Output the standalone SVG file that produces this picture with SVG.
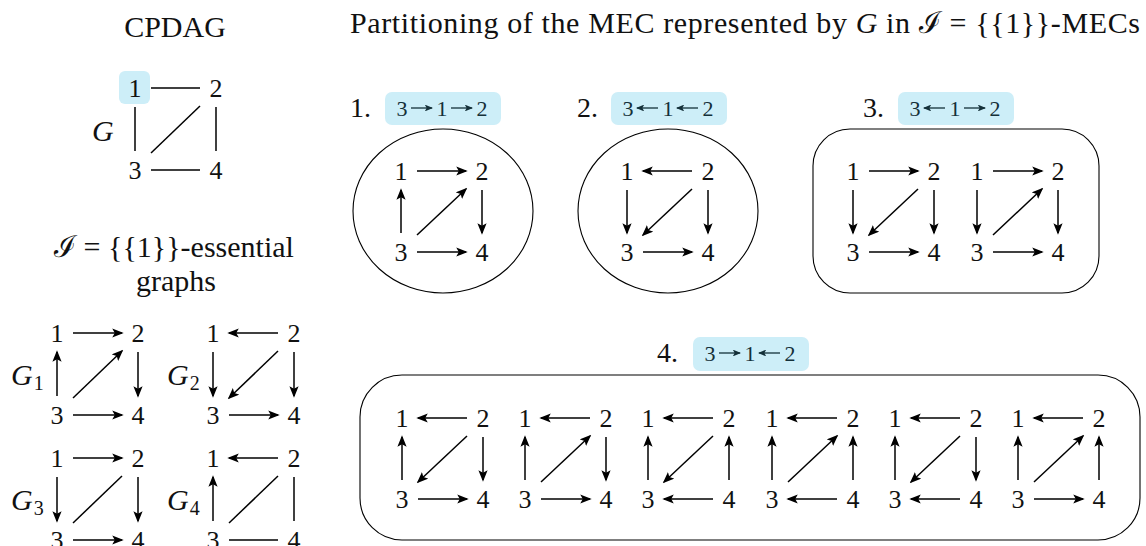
<svg xmlns="http://www.w3.org/2000/svg" width="1146" height="546" viewBox="0 0 1146 546">
<style>
text{font-family:"Liberation Serif",serif;fill:#111}
.t{font-size:30px}
.n{font-size:26px;text-anchor:middle}
.lbl{font-size:28px}
.it{font-style:italic}
.sub{font-size:20px;font-style:normal}
.e{stroke:#000;stroke-width:1.5;fill:none}
.a{marker-end:url(#ah)}
.bs{stroke:#143039;stroke-width:1.3;fill:none;marker-end:url(#ahs)}
text.bt{font-size:22px;text-anchor:middle;fill:#143039}
.badge{fill:#cdeef8}
.frame{fill:none;stroke:#000;stroke-width:1.1}
</style>
<defs>
<marker id="ah" viewBox="0 0 10 8" refX="8.5" refY="4" markerWidth="11.5" markerHeight="9.2" markerUnits="userSpaceOnUse" orient="auto"><path d="M0,0 L10,4 L0,8 L2.2,4 z" fill="#000"/></marker>
<marker id="ahs" viewBox="0 0 10 8" refX="8.5" refY="4" markerWidth="8.5" markerHeight="6.8" markerUnits="userSpaceOnUse" orient="auto"><path d="M0,0 L10,4 L0,8 L2.2,4 z" fill="#143039"/></marker>
</defs>

<g id="titles">
<text class="t" x="175" y="37" text-anchor="middle">CPDAG</text>
<text class="t" x="350" y="33" textLength="790" lengthAdjust="spacing">Partitioning of the MEC represented by <tspan class="it">G</tspan> in ℐ = {{1}}-MECs</text>
<text class="t" x="174" y="257" text-anchor="middle">ℐ = {{1}}-essential</text>
<text class="t" x="176" y="291" text-anchor="middle">graphs</text>
</g>

<g id="cpdag" transform="translate(135,88)">
<rect class="badge" x="-16" y="-17" width="31" height="33" rx="6"/>
<text class="n" x="0" y="8.5">1</text><text class="n" x="81" y="8.5">2</text><text class="n" x="0" y="90.5">3</text><text class="n" x="81" y="90.5">4</text>
<text class="t it" x="-43" y="53">G</text>
</g>

<g id="G1" transform="translate(57,333)">
<text class="n" x="0" y="8.5">1</text><text class="n" x="81" y="8.5">2</text><text class="n" x="0" y="90.5">3</text><text class="n" x="81" y="90.5">4</text>
<text class="t it" x="-46" y="52">G<tspan class="sub" dx="1" dy="5">1</tspan></text>
</g>
<g id="G2" transform="translate(213,333)">
<text class="n" x="0" y="8.5">1</text><text class="n" x="81" y="8.5">2</text><text class="n" x="0" y="90.5">3</text><text class="n" x="81" y="90.5">4</text>
<text class="t it" x="-46" y="52">G<tspan class="sub" dx="1" dy="5">2</tspan></text>
</g>
<g id="G3" transform="translate(57,458)">
<text class="n" x="0" y="8.5">1</text><text class="n" x="81" y="8.5">2</text><text class="n" x="0" y="90.5">3</text><text class="n" x="81" y="90.5">4</text>
<text class="t it" x="-46" y="52">G<tspan class="sub" dx="1" dy="5">3</tspan></text>
</g>
<g id="G4" transform="translate(213,458)">
<text class="n" x="0" y="8.5">1</text><text class="n" x="81" y="8.5">2</text><text class="n" x="0" y="90.5">3</text><text class="n" x="81" y="90.5">4</text>
<text class="t it" x="-46" y="52">G<tspan class="sub" dx="1" dy="5">4</tspan></text>
</g>

<g id="part1">
<text class="lbl" x="350" y="117">1.</text>
<rect class="badge" x="385" y="92" width="116" height="33" rx="7"/>
<text class="bt" x="402" y="116">3</text><text class="bt" x="442" y="116">1</text><text class="bt" x="482" y="116">2</text>
<line class="bs" x1="411" y1="108" x2="432" y2="108"/><line class="bs" x1="451" y1="108" x2="472" y2="108"/>
<ellipse class="frame" cx="443" cy="211" rx="90" ry="82"/>
</g>
<g id="part2">
<text class="lbl" x="577" y="117">2.</text>
<rect class="badge" x="611" y="92" width="116" height="33" rx="7"/>
<text class="bt" x="628" y="116">3</text><text class="bt" x="668" y="116">1</text><text class="bt" x="708" y="116">2</text>
<line class="bs" x1="658" y1="108" x2="637" y2="108"/><line class="bs" x1="698" y1="108" x2="677" y2="108"/>
<ellipse class="frame" cx="668" cy="211" rx="90" ry="82"/>
</g>
<g id="part3">
<text class="lbl" x="863" y="117">3.</text>
<rect class="badge" x="898" y="92" width="116" height="33" rx="7"/>
<text class="bt" x="915" y="116">3</text><text class="bt" x="955" y="116">1</text><text class="bt" x="995" y="116">2</text>
<line class="bs" x1="945" y1="108" x2="924" y2="108"/><line class="bs" x1="964" y1="108" x2="985" y2="108"/>
<rect class="frame" x="813" y="129" width="286" height="164" rx="37"/>
</g>
<g id="part4">
<text class="lbl" x="657" y="362">4.</text>
<rect class="badge" x="693" y="337" width="116" height="34" rx="7"/>
<text class="bt" x="710" y="361">3</text><text class="bt" x="750" y="361">1</text><text class="bt" x="790" y="361">2</text>
<line class="bs" x1="719" y1="353" x2="740" y2="353"/><line class="bs" x1="780" y1="353" x2="759" y2="353"/>
<rect class="frame" x="360" y="375" width="780" height="165" rx="42"/>
</g>

<g id="P1" transform="translate(401,171)"><text class="n" x="0" y="8.5">1</text><text class="n" x="81" y="8.5">2</text><text class="n" x="0" y="89.5">3</text><text class="n" x="81" y="89.5">4</text></g>
<g id="P2" transform="translate(627,171)"><text class="n" x="0" y="8.5">1</text><text class="n" x="81" y="8.5">2</text><text class="n" x="0" y="89.5">3</text><text class="n" x="81" y="89.5">4</text></g>
<g id="P3a" transform="translate(853,171)"><text class="n" x="0" y="8.5">1</text><text class="n" x="81" y="8.5">2</text><text class="n" x="0" y="89.5">3</text><text class="n" x="81" y="89.5">4</text></g>
<g id="P3b" transform="translate(977,171)"><text class="n" x="0" y="8.5">1</text><text class="n" x="81" y="8.5">2</text><text class="n" x="0" y="89.5">3</text><text class="n" x="81" y="89.5">4</text></g>
<g id="P4a" transform="translate(402,418)"><text class="n" x="0" y="8.5">1</text><text class="n" x="81" y="8.5">2</text><text class="n" x="0" y="89.5">3</text><text class="n" x="81" y="89.5">4</text></g>
<g id="P4b" transform="translate(525,418)"><text class="n" x="0" y="8.5">1</text><text class="n" x="81" y="8.5">2</text><text class="n" x="0" y="89.5">3</text><text class="n" x="81" y="89.5">4</text></g>
<g id="P4c" transform="translate(648,418)"><text class="n" x="0" y="8.5">1</text><text class="n" x="81" y="8.5">2</text><text class="n" x="0" y="89.5">3</text><text class="n" x="81" y="89.5">4</text></g>
<g id="P4d" transform="translate(772,418)"><text class="n" x="0" y="8.5">1</text><text class="n" x="81" y="8.5">2</text><text class="n" x="0" y="89.5">3</text><text class="n" x="81" y="89.5">4</text></g>
<g id="P4e" transform="translate(895,418)"><text class="n" x="0" y="8.5">1</text><text class="n" x="81" y="8.5">2</text><text class="n" x="0" y="89.5">3</text><text class="n" x="81" y="89.5">4</text></g>
<g id="P4f" transform="translate(1018,418)"><text class="n" x="0" y="8.5">1</text><text class="n" x="81" y="8.5">2</text><text class="n" x="0" y="89.5">3</text><text class="n" x="81" y="89.5">4</text></g>

<g id="connectors">
<g transform="translate(135,88)">
<line class="e" x1="16" y1="0" x2="65" y2="0"/><line class="e" x1="16" y1="82" x2="65" y2="82"/>
<line class="e" x1="0" y1="19" x2="0" y2="63"/><line class="e" x1="81" y1="19" x2="81" y2="63"/>
<line class="e" x1="16" y1="65" x2="65" y2="18"/>
</g>
<g transform="translate(57,333)">
<line class="e a" x1="16" y1="0" x2="65" y2="0"/><line class="e a" x1="16" y1="82" x2="65" y2="82"/>
<line class="e a" x1="0" y1="63" x2="0" y2="19"/><line class="e a" x1="81" y1="19" x2="81" y2="63"/>
<line class="e a" x1="16" y1="65" x2="65" y2="18"/>
</g>
<g transform="translate(213,333)">
<line class="e a" x1="65" y1="0" x2="16" y2="0"/><line class="e a" x1="16" y1="82" x2="65" y2="82"/>
<line class="e a" x1="0" y1="19" x2="0" y2="63"/><line class="e a" x1="81" y1="19" x2="81" y2="63"/>
<line class="e a" x1="65" y1="18" x2="16" y2="65"/>
</g>
<g transform="translate(57,458)">
<line class="e a" x1="16" y1="0" x2="65" y2="0"/><line class="e a" x1="16" y1="82" x2="65" y2="82"/>
<line class="e a" x1="0" y1="19" x2="0" y2="63"/><line class="e a" x1="81" y1="19" x2="81" y2="63"/>
<line class="e" x1="16" y1="65" x2="65" y2="18"/>
</g>
<g transform="translate(213,458)">
<line class="e a" x1="65" y1="0" x2="16" y2="0"/><line class="e" x1="16" y1="82" x2="65" y2="82"/>
<line class="e a" x1="0" y1="63" x2="0" y2="19"/><line class="e" x1="81" y1="19" x2="81" y2="63"/>
<line class="e" x1="16" y1="65" x2="65" y2="18"/>
</g>
<g transform="translate(401,171)">
<line class="e a" x1="16" y1="0" x2="65" y2="0"/><line class="e a" x1="16" y1="81" x2="65" y2="81"/>
<line class="e a" x1="0" y1="62" x2="0" y2="19"/><line class="e a" x1="81" y1="19" x2="81" y2="62"/>
<line class="e a" x1="16" y1="64" x2="65" y2="18"/>
</g>
<g transform="translate(627,171)">
<line class="e a" x1="65" y1="0" x2="16" y2="0"/><line class="e a" x1="16" y1="81" x2="65" y2="81"/>
<line class="e a" x1="0" y1="19" x2="0" y2="62"/><line class="e a" x1="81" y1="19" x2="81" y2="62"/>
<line class="e a" x1="65" y1="18" x2="16" y2="64"/>
</g>
<g transform="translate(853,171)">
<line class="e a" x1="16" y1="0" x2="65" y2="0"/><line class="e a" x1="16" y1="81" x2="65" y2="81"/>
<line class="e a" x1="0" y1="19" x2="0" y2="62"/><line class="e a" x1="81" y1="19" x2="81" y2="62"/>
<line class="e a" x1="65" y1="18" x2="16" y2="64"/>
</g>
<g transform="translate(977,171)">
<line class="e a" x1="16" y1="0" x2="65" y2="0"/><line class="e a" x1="16" y1="81" x2="65" y2="81"/>
<line class="e a" x1="0" y1="19" x2="0" y2="62"/><line class="e a" x1="81" y1="19" x2="81" y2="62"/>
<line class="e a" x1="16" y1="64" x2="65" y2="18"/>
</g>
<g transform="translate(402,418)">
<line class="e a" x1="65" y1="0" x2="16" y2="0"/><line class="e a" x1="16" y1="81" x2="65" y2="81"/>
<line class="e a" x1="0" y1="62" x2="0" y2="19"/><line class="e a" x1="81" y1="19" x2="81" y2="62"/>
<line class="e a" x1="65" y1="18" x2="16" y2="64"/>
</g>
<g transform="translate(525,418)">
<line class="e a" x1="65" y1="0" x2="16" y2="0"/><line class="e a" x1="16" y1="81" x2="65" y2="81"/>
<line class="e a" x1="0" y1="62" x2="0" y2="19"/><line class="e a" x1="81" y1="19" x2="81" y2="62"/>
<line class="e a" x1="16" y1="64" x2="65" y2="18"/>
</g>
<g transform="translate(648,418)">
<line class="e a" x1="65" y1="0" x2="16" y2="0"/><line class="e a" x1="65" y1="81" x2="16" y2="81"/>
<line class="e a" x1="0" y1="62" x2="0" y2="19"/><line class="e a" x1="81" y1="62" x2="81" y2="19"/>
<line class="e a" x1="65" y1="18" x2="16" y2="64"/>
</g>
<g transform="translate(772,418)">
<line class="e a" x1="65" y1="0" x2="16" y2="0"/><line class="e a" x1="65" y1="81" x2="16" y2="81"/>
<line class="e a" x1="0" y1="62" x2="0" y2="19"/><line class="e a" x1="81" y1="62" x2="81" y2="19"/>
<line class="e a" x1="16" y1="64" x2="65" y2="18"/>
</g>
<g transform="translate(895,418)">
<line class="e a" x1="65" y1="0" x2="16" y2="0"/><line class="e a" x1="65" y1="81" x2="16" y2="81"/>
<line class="e a" x1="0" y1="62" x2="0" y2="19"/><line class="e a" x1="81" y1="19" x2="81" y2="62"/>
<line class="e a" x1="65" y1="18" x2="16" y2="64"/>
</g>
<g transform="translate(1018,418)">
<line class="e a" x1="65" y1="0" x2="16" y2="0"/><line class="e a" x1="16" y1="81" x2="65" y2="81"/>
<line class="e a" x1="0" y1="62" x2="0" y2="19"/><line class="e a" x1="81" y1="62" x2="81" y2="19"/>
<line class="e a" x1="16" y1="64" x2="65" y2="18"/>
</g>
</g>
</svg>
